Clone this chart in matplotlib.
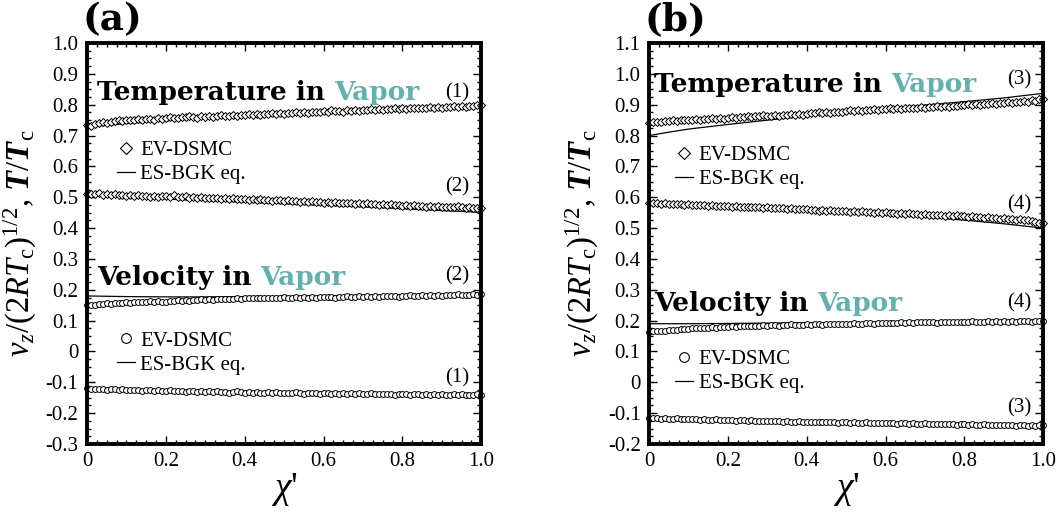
import matplotlib.pyplot as plt
import numpy as np
from matplotlib.ticker import MultipleLocator, FuncFormatter
from matplotlib.lines import Line2D

plt.rcParams['font.family'] = ['Liberation Serif', 'DejaVu Serif']
plt.rcParams['mathtext.fontset'] = 'custom'
plt.rcParams['mathtext.rm'] = 'Liberation Serif'
plt.rcParams['mathtext.it'] = 'Liberation Serif:italic'
plt.rcParams['mathtext.bf'] = 'Liberation Serif:bold:italic'

TEAL = '#62b1ae'

# x positions of the EV-DSMC samples and of the ES-BGK curves
x_dsmc = np.linspace(0, 1, 101)
x_bgk = [0, 0.05, 0.1, 0.2, 0.3, 0.4, 0.5, 0.6, 0.7, 0.8, 0.9, 1.0]

# (a) temperature, case (1)
a_T1 = [0.735, 0.731, 0.736, 0.741, 0.744, 0.741, 0.743, 0.747, 0.749, 0.746,
        0.749, 0.752, 0.750, 0.754, 0.751, 0.755, 0.753, 0.752, 0.756, 0.754,
        0.757, 0.760, 0.758, 0.756, 0.761, 0.759, 0.763, 0.760, 0.758, 0.762,
        0.760, 0.764, 0.761, 0.763, 0.766, 0.762, 0.765, 0.767, 0.764, 0.768,
        0.766, 0.769, 0.767, 0.770, 0.768, 0.771, 0.769, 0.772, 0.770, 0.773,
        0.771, 0.774, 0.772, 0.775, 0.773, 0.776, 0.774, 0.778, 0.775, 0.777,
        0.780, 0.776, 0.784, 0.779, 0.781, 0.778, 0.782, 0.780, 0.783, 0.781,
        0.784, 0.782, 0.785, 0.783, 0.786, 0.784, 0.787, 0.785, 0.788, 0.786,
        0.789, 0.787, 0.790, 0.788, 0.791, 0.789, 0.790, 0.792, 0.789, 0.793,
        0.791, 0.794, 0.792, 0.795, 0.793, 0.796, 0.794, 0.797, 0.795, 0.798, 0.799]
a_T1_bgk = [0.728, 0.733, 0.739, 0.748, 0.756, 0.763, 0.769, 0.775, 0.781, 0.787, 0.794, 0.800]

# (a) temperature, case (2)
a_T2 = [0.510, 0.512, 0.509, 0.513, 0.508, 0.510, 0.507, 0.509, 0.506, 0.508,
        0.505, 0.507, 0.504, 0.506, 0.503, 0.505, 0.502, 0.504, 0.501, 0.503,
        0.504, 0.501, 0.506, 0.502, 0.500, 0.503, 0.499, 0.501, 0.498, 0.500,
        0.497, 0.499, 0.496, 0.498, 0.495, 0.497, 0.494, 0.496, 0.495, 0.493,
        0.495, 0.492, 0.494, 0.491, 0.493, 0.490, 0.492, 0.489, 0.491, 0.490,
        0.488, 0.490, 0.487, 0.489, 0.486, 0.488, 0.485, 0.487, 0.484, 0.486,
        0.483, 0.485, 0.482, 0.484, 0.481, 0.483, 0.480, 0.482, 0.479, 0.481,
        0.478, 0.480, 0.477, 0.479, 0.476, 0.478, 0.475, 0.477, 0.474, 0.476,
        0.473, 0.475, 0.472, 0.474, 0.471, 0.473, 0.470, 0.472, 0.469, 0.471,
        0.468, 0.470, 0.467, 0.469, 0.471, 0.468, 0.466, 0.467, 0.465, 0.466, 0.465]
a_T2_bgk = [0.505, 0.502, 0.499, 0.494, 0.489, 0.484, 0.479, 0.474, 0.469, 0.463, 0.457, 0.451]

# (a) velocity, case (2)
a_V2 = [0.150, 0.152, 0.151, 0.154, 0.153, 0.156, 0.155, 0.157, 0.156, 0.158,
        0.160, 0.158, 0.161, 0.159, 0.162, 0.160, 0.163, 0.161, 0.164, 0.162,
        0.160, 0.165, 0.163, 0.166, 0.164, 0.167, 0.165, 0.168, 0.166, 0.169,
        0.167, 0.169, 0.168, 0.170, 0.169, 0.171, 0.170, 0.169, 0.172, 0.171,
        0.173, 0.172, 0.174, 0.173, 0.172, 0.174, 0.173, 0.175, 0.174, 0.173,
        0.176, 0.174, 0.175, 0.177, 0.175, 0.176, 0.174, 0.177, 0.175, 0.176,
        0.178, 0.176, 0.177, 0.175, 0.178, 0.177, 0.179, 0.177, 0.178, 0.180,
        0.178, 0.179, 0.177, 0.180, 0.178, 0.179, 0.181, 0.179, 0.180, 0.178,
        0.181, 0.179, 0.182, 0.180, 0.181, 0.183, 0.181, 0.182, 0.180, 0.183,
        0.181, 0.184, 0.182, 0.183, 0.185, 0.183, 0.184, 0.182, 0.185, 0.184, 0.186]
a_V2_bgk = [0.180, 0.179, 0.178, 0.177, 0.177, 0.178, 0.179, 0.180, 0.182, 0.184, 0.186, 0.188]

# (a) velocity, case (1)
a_V1 = [-0.120, -0.122, -0.121, -0.123, -0.122, -0.124, -0.123, -0.122, -0.125, -0.123,
        -0.124, -0.126, -0.125, -0.124, -0.127, -0.125, -0.126, -0.128, -0.126, -0.127,
        -0.128, -0.126, -0.129, -0.127, -0.128, -0.130, -0.128, -0.129, -0.131, -0.129,
        -0.130, -0.128, -0.131, -0.129, -0.132, -0.130, -0.134, -0.131, -0.129, -0.132,
        -0.133, -0.131, -0.134, -0.132, -0.135, -0.133, -0.131, -0.134, -0.132, -0.135,
        -0.133, -0.136, -0.134, -0.132, -0.135, -0.137, -0.134, -0.136, -0.135, -0.138,
        -0.136, -0.134, -0.137, -0.135, -0.138, -0.136, -0.137, -0.135, -0.138, -0.136,
        -0.137, -0.139, -0.136, -0.138, -0.137, -0.139, -0.137, -0.138, -0.140, -0.138,
        -0.139, -0.137, -0.140, -0.138, -0.139, -0.141, -0.139, -0.140, -0.138, -0.141,
        -0.139, -0.141, -0.140, -0.138, -0.141, -0.139, -0.142, -0.140, -0.141, -0.139, -0.140]
a_V1_bgk = [-0.120, -0.122, -0.124, -0.127, -0.130, -0.132, -0.134, -0.136, -0.137, -0.138, -0.139, -0.140]

# (b) temperature, case (3)
b_T3 = [0.840, 0.843, 0.845, 0.844, 0.847, 0.846, 0.849, 0.848, 0.851, 0.849,
        0.852, 0.850, 0.853, 0.851, 0.855, 0.853, 0.856, 0.854, 0.857, 0.855,
        0.858, 0.860, 0.857, 0.861, 0.859, 0.862, 0.860, 0.864, 0.862, 0.866,
        0.863, 0.865, 0.867, 0.864, 0.868, 0.866, 0.869, 0.867, 0.870, 0.868,
        0.871, 0.873, 0.872, 0.875, 0.873, 0.876, 0.874, 0.877, 0.876, 0.878,
        0.879, 0.882, 0.880, 0.883, 0.881, 0.884, 0.882, 0.885, 0.883, 0.886,
        0.885, 0.888, 0.886, 0.889, 0.887, 0.890, 0.888, 0.891, 0.889, 0.892,
        0.891, 0.894, 0.892, 0.895, 0.893, 0.896, 0.894, 0.897, 0.895, 0.898,
        0.898, 0.901, 0.899, 0.902, 0.900, 0.903, 0.901, 0.905, 0.903, 0.906,
        0.905, 0.908, 0.906, 0.910, 0.908, 0.912, 0.910, 0.914, 0.913, 0.917, 0.918]
b_T3_bgk = [0.800, 0.811, 0.821, 0.836, 0.850, 0.863, 0.876, 0.888, 0.899, 0.910, 0.922, 0.937]

# (b) temperature, case (4)
b_T4 = [0.582, 0.580, 0.581, 0.579, 0.580, 0.578, 0.579, 0.577, 0.578, 0.576,
        0.577, 0.575, 0.576, 0.574, 0.575, 0.573, 0.574, 0.572, 0.573, 0.571,
        0.572, 0.570, 0.571, 0.569, 0.570, 0.568, 0.569, 0.567, 0.568, 0.566,
        0.567, 0.565, 0.566, 0.564, 0.565, 0.563, 0.564, 0.562, 0.563, 0.561,
        0.562, 0.558, 0.560, 0.557, 0.559, 0.556, 0.558, 0.555, 0.557, 0.554,
        0.556, 0.553, 0.555, 0.552, 0.554, 0.551, 0.553, 0.550, 0.552, 0.549,
        0.551, 0.548, 0.550, 0.547, 0.549, 0.546, 0.548, 0.545, 0.547, 0.544,
        0.545, 0.542, 0.544, 0.541, 0.543, 0.540, 0.542, 0.539, 0.541, 0.538,
        0.539, 0.536, 0.538, 0.535, 0.537, 0.534, 0.536, 0.533, 0.534, 0.531,
        0.532, 0.529, 0.530, 0.527, 0.528, 0.525, 0.526, 0.522, 0.520, 0.517, 0.515]
b_T4_bgk = [0.585, 0.582, 0.578, 0.571, 0.565, 0.558, 0.551, 0.543, 0.535, 0.526, 0.514, 0.500]

# (b) velocity, case (4)
b_V4 = [0.163, 0.165, 0.166, 0.168, 0.167, 0.169, 0.170, 0.171, 0.172, 0.174,
        0.173, 0.175, 0.176, 0.175, 0.177, 0.176, 0.178, 0.177, 0.179, 0.178,
        0.179, 0.181, 0.180, 0.182, 0.181, 0.183, 0.182, 0.184, 0.183, 0.185,
        0.184, 0.186, 0.185, 0.184, 0.187, 0.186, 0.188, 0.185, 0.187, 0.186,
        0.188, 0.187, 0.189, 0.188, 0.187, 0.189, 0.188, 0.190, 0.189, 0.188,
        0.190, 0.189, 0.191, 0.190, 0.189, 0.191, 0.193, 0.190, 0.192, 0.191,
        0.192, 0.191, 0.193, 0.192, 0.194, 0.192, 0.195, 0.193, 0.194, 0.196,
        0.194, 0.196, 0.195, 0.193, 0.196, 0.194, 0.197, 0.195, 0.196, 0.194,
        0.197, 0.195, 0.198, 0.196, 0.197, 0.195, 0.198, 0.196, 0.199, 0.197,
        0.198, 0.196, 0.199, 0.197, 0.200, 0.198, 0.199, 0.197, 0.200, 0.198, 0.200]
b_V4_bgk = [0.190, 0.190, 0.190, 0.191, 0.192, 0.193, 0.193, 0.194, 0.195, 0.195, 0.196, 0.196]

# (b) velocity, case (3)
b_V3 = [-0.115, -0.117, -0.116, -0.118, -0.117, -0.119, -0.118, -0.117, -0.120, -0.119,
        -0.118, -0.120, -0.119, -0.121, -0.120, -0.122, -0.121, -0.120, -0.122, -0.121,
        -0.123, -0.122, -0.124, -0.123, -0.122, -0.124, -0.123, -0.125, -0.124, -0.126,
        -0.125, -0.124, -0.126, -0.125, -0.127, -0.126, -0.128, -0.127, -0.126, -0.128,
        -0.127, -0.129, -0.128, -0.130, -0.129, -0.128, -0.130, -0.129, -0.131, -0.130,
        -0.129, -0.131, -0.130, -0.132, -0.131, -0.130, -0.132, -0.131, -0.133, -0.132,
        -0.131, -0.133, -0.132, -0.134, -0.133, -0.132, -0.134, -0.133, -0.135, -0.134,
        -0.133, -0.135, -0.134, -0.136, -0.135, -0.134, -0.136, -0.135, -0.137, -0.136,
        -0.135, -0.137, -0.136, -0.138, -0.137, -0.136, -0.138, -0.137, -0.139, -0.138,
        -0.137, -0.139, -0.138, -0.140, -0.139, -0.138, -0.140, -0.139, -0.141, -0.139, -0.137]
b_V3_bgk = [-0.115, -0.117, -0.119, -0.122, -0.125, -0.128, -0.130, -0.132, -0.134, -0.136, -0.137, -0.138]

panels = [
    dict(label='(a)', left=0.0818, ylim=(-0.3, 1.0),
         temps=[(a_T1, a_T1_bgk), (a_T2, a_T2_bgk)],
         vels=[(a_V2, a_V2_bgk), (a_V1, a_V1_bgk)],
         tags=[('(1)', 0.84), ('(2)', 0.533), ('(2)', 0.245), ('(1)', -0.085)],
         t_title=(0.025, 0.815), v_title=(0.025, 0.216),
         t_leg=0.757, v_leg=0.282, leg_x=0.075),
    dict(label='(b)', left=0.6105, ylim=(-0.2, 1.1),
         temps=[(b_T3, b_T3_bgk), (b_T4, b_T4_bgk)],
         vels=[(b_V4, b_V4_bgk), (b_V3, b_V3_bgk)],
         tags=[('(3)', 0.98), ('(4)', 0.575), ('(4)', 0.257), ('(3)', -0.083)],
         t_title=(0.012, 0.941), v_title=(0.012, 0.231),
         t_leg=0.745, v_leg=0.236, leg_x=0.065),
]


def fmt(v, pos):
    if abs(v) < 1e-9:
        return '0'
    return '%.1f' % v


fig = plt.figure(figsize=(10.63, 5.16), dpi=100)

for p in panels:
    ax = fig.add_axes([p['left'], 0.1395, 0.371, 0.7771])
    for ys, yl in p['temps']:
        ax.plot(x_bgk, yl, color='black', lw=0.9)
        ax.plot(x_dsmc, ys, ls='none', marker='D', ms=3.6, mfc='white',
                mec='black', mew=0.7, clip_on=False)
    for ys, yl in p['vels']:
        ax.plot(x_bgk, yl, color='black', lw=0.9)
        ax.plot(x_dsmc, ys, ls='none', marker='o', ms=4.2, mfc='white',
                mec='black', mew=0.7, clip_on=False)

    ax.set_xlim(0, 1.0)
    ax.set_ylim(*p['ylim'])
    ax.xaxis.set_major_locator(MultipleLocator(0.2))
    ax.xaxis.set_minor_locator(MultipleLocator(0.025))
    ax.yaxis.set_major_locator(MultipleLocator(0.1))
    ax.yaxis.set_minor_locator(MultipleLocator(0.025))
    ax.xaxis.set_major_formatter(FuncFormatter(fmt))
    ax.yaxis.set_major_formatter(FuncFormatter(fmt))
    ax.tick_params(which='both', direction='in', top=True, right=True,
                   labelsize=15, width=1.0)
    ax.tick_params(which='major', length=6, pad=6)
    ax.tick_params(which='minor', length=3)
    for s in ax.spines.values():
        s.set_linewidth(2.8)

    ax.set_xlabel(r"$\chi$'", fontsize=27, labelpad=0)
    ax.set_ylabel(r'$v_z/(2RT_{\rm c})^{1/2}$, $\mathbf{T}/\mathbf{T}_{\rm c}$',
                  fontsize=23.5, labelpad=5)

    # section titles with coloured "Vapor"
    for (tx, ty), word in [(p['t_title'], 'Temperature in '), (p['v_title'], 'Velocity in ')]:
        t = ax.text(tx, ty, word, transform=ax.get_yaxis_transform(),
                    fontsize=19, fontweight='bold', family='DejaVu Serif',
                    va='baseline', ha='left')
        ax.annotate('Vapor', xy=(1, 0), xycoords=t, va='bottom', ha='left',
                    fontsize=19, fontweight='bold', family='DejaVu Serif',
                    color=TEAL)

    for tag, ty in p['tags']:
        ax.text(0.94, ty, tag, fontsize=15, ha='center', va='center')

    # legends
    h_d = Line2D([], [], ls='none', marker='D', ms=6, mfc='white', mec='black', mew=0.8)
    h_o = Line2D([], [], ls='none', marker='o', ms=7, mfc='white', mec='black', mew=0.8)
    h_l = Line2D([], [], color='black', lw=0.9)
    leg1 = ax.legend([h_d, h_l], ['EV-DSMC', 'ES-BGK eq.'], loc='upper left',
                     bbox_to_anchor=(p['leg_x'], p['t_leg']), frameon=False, fontsize=15,
                     handlelength=0.9, handletextpad=0.25, labelspacing=0.22,
                     borderpad=0, borderaxespad=0)
    ax.add_artist(leg1)
    ax.legend([h_o, h_l], ['EV-DSMC', 'ES-BGK eq.'], loc='upper left',
              bbox_to_anchor=(p['leg_x'], p['v_leg']), frameon=False, fontsize=15,
              handlelength=0.9, handletextpad=0.25, labelspacing=0.22,
              borderpad=0, borderaxespad=0)

    fig.text(p['left'] - 0.004, 0.997, p['label'], fontsize=27, fontweight='bold',
             family='DejaVu Serif', ha='left', va='top')

plt.savefig('out.png', dpi=100)
